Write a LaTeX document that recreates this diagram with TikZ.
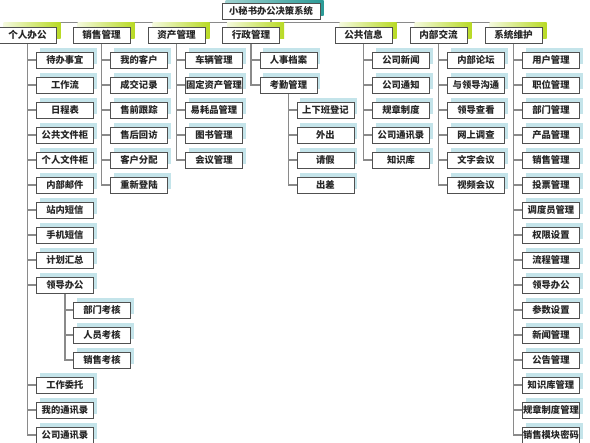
\documentclass[tikz,border=0pt]{standalone}
\usepackage{fontspec}
\newfontfamily\cjk{Noto Sans CJK SC}
\usetikzlibrary{shadows,backgrounds}
\definecolor{bordc}{HTML}{505050}
\definecolor{linec}{HTML}{8A8A8A}
\definecolor{leafsh}{HTML}{C4E4EA}
\definecolor{catsh}{HTML}{B8DA24}
\definecolor{rootsh}{HTML}{2A9A96}
\tikzset{
 box/.style={draw=bordc, line width=0.9pt, fill=white, inner sep=0pt, minimum height=16pt, font=\cjk\bfseries\fontsize{9.3}{10}\selectfont, text=black!85},
 leaf/.style={box, minimum width=57pt, anchor=west, general shadow={shadow xshift=3.5pt, shadow yshift=3.5pt, fill=leafsh}},
 cat/.style={box, minimum width=57pt, font=\cjk\bfseries\fontsize{9.6}{10}\selectfont, general shadow={shadow xshift=4.5pt, shadow yshift=4pt, left color=catsh!15, right color=catsh}},
 rootbox/.style={box, minimum width=98pt, general shadow={shadow xshift=3.5pt, shadow yshift=3pt, left color=rootsh!45, right color=rootsh}},
 conn/.style={draw=linec, line width=1.6pt},
}
\begin{document}
\begin{tikzpicture}[x=1pt, y=-1pt]
\useasboundingbox (0,0) rectangle (590,443);
\node[rootbox] (root) at (271,11) {小秘书办公决策系统};
\node[cat] (A) at (27.5,35) {个人办公};
\node[cat] (B) at (101.5,35) {销售管理};
\node[cat] (C) at (176.5,35) {资产管理};
\node[cat] (D) at (251,35) {行政管理};
\node[cat] (E) at (363.5,35) {公共信息};
\node[cat] (F) at (438.5,35) {内部交流};
\node[cat] (G) at (513.5,35) {系统维护};
% column A
\foreach \r/\t in {0/待办事宜,1/工作流,2/日程表,3/公共文件柜,4/个人文件柜,5/内部邮件,6/站内短信,7/手机短信,8/计划汇总,9/领导办公,13/工作委托,14/我的通讯录,15/公司通讯录}
  \node[leaf] (a\r) at (36,60+25*\r) {\t};
\foreach \r/\t in {10/部门考核,11/人员考核,12/销售考核}
  \node[leaf] (a\r) at (73,60+25*\r) {\t};
% column B
\foreach \t [count=\i from 0] in {我的客户,成交记录,售前跟踪,售后回访,客户分配,重新登陆}
  \node[leaf] (b\i) at (110,60+25*\i) {\t};
% column C
\foreach \t [count=\i from 0] in {车辆管理,固定资产管理,易耗品管理,图书管理,会议管理}
  \node[leaf] (c\i) at (185,60+25*\i) {\t};
% column D
\foreach \t [count=\i from 0] in {人事档案,考勤管理}
  \node[leaf] (d\i) at (259.5,60+25*\i) {\t};
\foreach \r/\t in {2/上下班登记,3/外出,4/请假,5/出差}
  \node[leaf] (d\r) at (296.5,60+25*\r) {\t};
% column E
\foreach \t [count=\i from 0] in {公司新闻,公司通知,规章制度,公司通讯录,知识库}
  \node[leaf] (e\i) at (372,60+25*\i) {\t};
% column F
\foreach \t [count=\i from 0] in {内部论坛,与领导沟通,领导查看,网上调查,文字会议,视频会议}
  \node[leaf] (f\i) at (447,60+25*\i) {\t};
% column G
\foreach \t [count=\i from 0] in {用户管理,职位管理,部门管理,产品管理,销售管理,投票管理,调度员管理,权限设置,流程管理,领导办公,参数设置,新闻管理,公告管理,知识库管理,规章制度管理,销售模块密码}
  \node[leaf] (g\i) at (522,60+25*\i) {\t};
\begin{scope}[on background layer]
  \fill[white] (0,0) rectangle (590,443);
  \foreach \n in {A,B,C,D,E,F,G}
    \draw[conn] (root.south) -- ++(0,3) -| (\n.north);
  \foreach \r in {0,...,9,13,14,15}
    \draw[conn] (A.south) |- (a\r.west);
  \foreach \r in {10,11,12}
    \draw[conn] (a9.south) |- (a\r.west);
  \foreach \r in {0,...,5}
    \draw[conn] (B.south) |- (b\r.west);
  \foreach \r in {0,...,4}
    \draw[conn] (C.south) |- (c\r.west);
  \foreach \r in {0,1}
    \draw[conn] (D.south) |- (d\r.west);
  \foreach \r in {2,...,5}
    \draw[conn] (d1.south) |- (d\r.west);
  \foreach \r in {0,...,4}
    \draw[conn] (E.south) |- (e\r.west);
  \foreach \r in {0,...,5}
    \draw[conn] (F.south) |- (f\r.west);
  \foreach \r in {0,...,15}
    \draw[conn] (G.south) |- (g\r.west);
\end{scope}
\end{tikzpicture}
\end{document}
